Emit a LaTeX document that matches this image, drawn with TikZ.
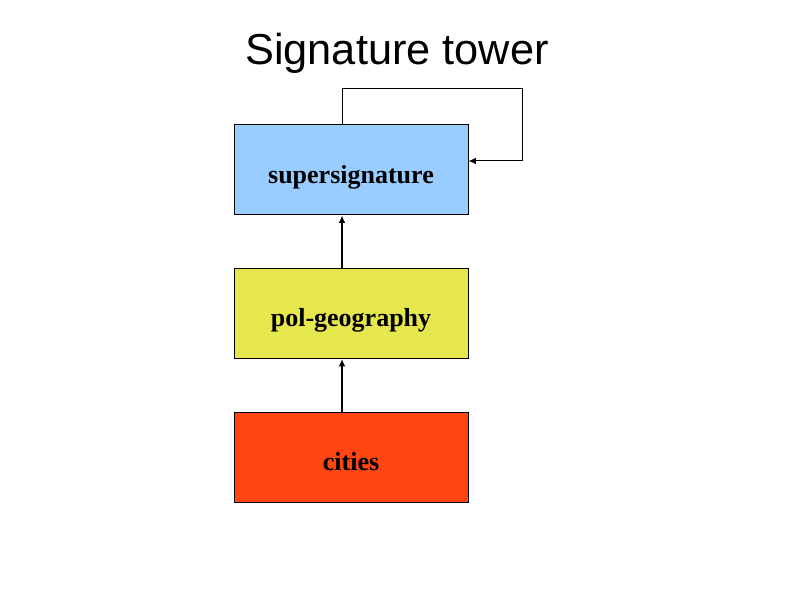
\documentclass[tikz,border=0pt]{standalone}
\usepackage{fontspec}
\setmainfont{Liberation Serif}
\newfontfamily\titlefont{Liberation Sans}
\usetikzlibrary{arrows.meta}
\definecolor{boxblue}{HTML}{99CCFF}
\definecolor{boxyellow}{HTML}{E6E64D}
\definecolor{boxred}{HTML}{FF4512}
\begin{document}
\begin{tikzpicture}[x=0.75pt,y=-0.75pt,
  layer/.style={draw=black,line width=0.75pt,minimum width=175.5pt,minimum height=67.5pt,inner sep=0pt,text height=20pt,text depth=0pt,font=\fontsize{19.5}{22}\selectfont\bfseries},
  conn/.style={draw=black,line width=1.1pt,-{Latex[length=5.5pt,width=5pt]}}]
\useasboundingbox (0,0) rectangle (794,595);
\node[font=\titlefont\fontsize{32.5}{36}\selectfont] (title) at (397,53) {Signature tower};
\node[layer,fill=boxblue] (super) at (351,170) {supersignature};
\node[layer,fill=boxyellow] (pol) at (351,313.5) {pol-geography};
\node[layer,fill=boxred] (cities) at (351,457.5) {cities};
\coordinate (lt) at (342,89);
\coordinate (rt) at (522,89);
\coordinate (rb) at (522,161);
\draw[conn] (cities.north -| lt) -- (pol.south -| lt);
\draw[conn] (pol.north -| lt) -- (super.south -| lt);
\draw[conn,line width=0.75pt] (super.north -| lt) -- (lt) -- (rt) -- (rb) -- (super.east |- rb);
\end{tikzpicture}
\end{document}
